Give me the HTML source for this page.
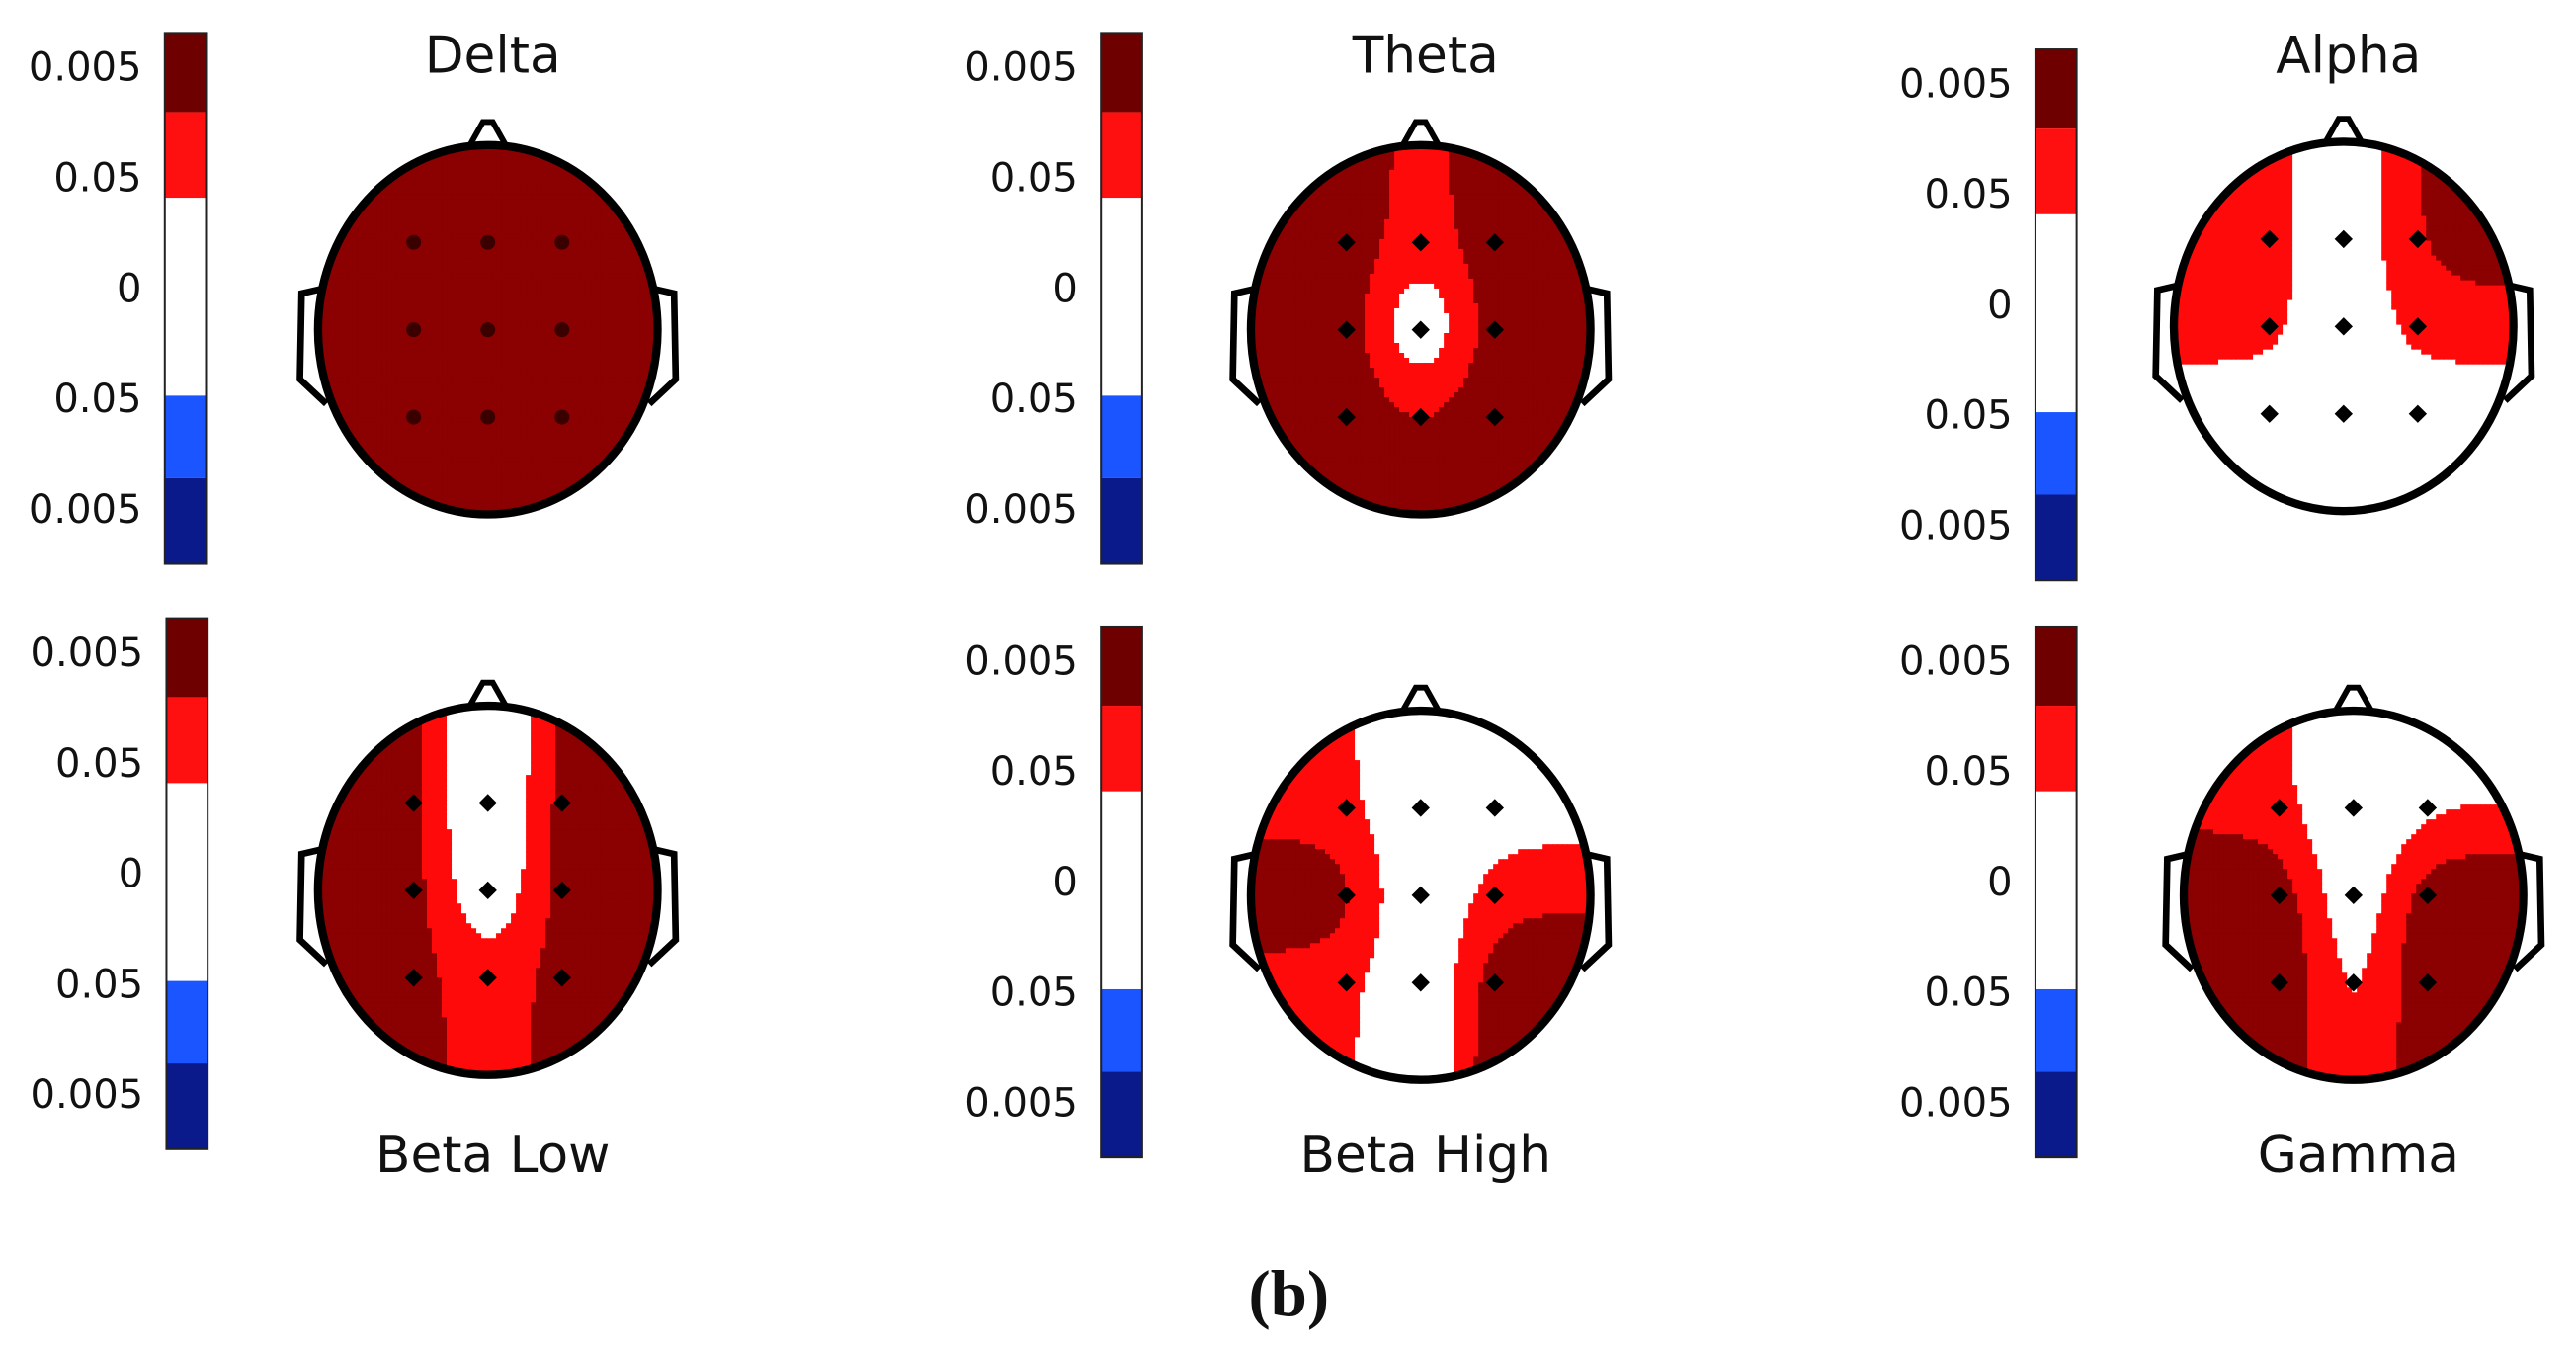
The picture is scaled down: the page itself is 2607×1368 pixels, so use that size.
<!DOCTYPE html>
<html><head><meta charset="utf-8"><style>
html,body{margin:0;padding:0;background:#fff;}
svg{display:block;}
text{font-family:"DejaVu Sans","Liberation Sans",sans-serif;fill:#111;}
</style></head><body>
<svg id="fig" width="2607" height="1368" viewBox="0 0 1563 820" preserveAspectRatio="none" xmlns="http://www.w3.org/2000/svg">
<text x="782" y="798" text-anchor="middle" font-size="40" style="font-family:'Liberation Serif',serif;font-weight:bold">(b)</text>
</svg>
<script>
// band names and electrode significance levels (3x3 grid: front, mid, back rows; left, mid, right cols)
const bandNames = ["Delta","Theta","Alpha","Beta Low","Beta High","Gamma"];
const deltaVals = [2.5,2.5,2.5, 2.5,2.3,2.5, 2.5,2.5,2.5];
const thetaVals = [2.2,1.0,2.2, 2.2,-0.8,2.2, 2.2,1.6,2.2];
const alphaVals = [1.3,-0.3,1.8, 1.3,-0.3,1.3, 0.0,0.0,0.0];
const betaLowVals = [2.2,-1.0,2.2, 2.1,-0.5,2.1, 1.9,1.0,1.9];
const betaHighVals = [1.1,-0.5,0.3, 2.2,-0.5,1.3, 1.1,-0.5,2.4];
const gammaVals = [1.1,-0.4,0.5, 2.4,-0.4,2.4, 2.4,0.2,2.4];
const tickLabels = ["0.005","0.05","0","0.05","0.005"];
const bandValues = [deltaVals,thetaVals,alphaVals,betaLowVals,betaHighVals,gammaVals];

const layout = [
 {cx:296,cy:200,cbx:100,cby:20,ty:33},
 {cx:862,cy:200,cbx:668,cby:20,ty:33},
 {cx:1422,cy:198,cbx:1235,cby:30,ty:33},
 {cx:296,cy:540,cbx:101,cby:375,ty:700},
 {cx:862,cy:543,cbx:668,cby:380,ty:700},
 {cx:1428,cy:543,cbx:1235,cby:380,ty:700}
];
const NS="http://www.w3.org/2000/svg";
const svg=document.getElementById('fig');
function mk(tag,attrs,parent){const e=document.createElementNS(NS,tag);for(const k in attrs)e.setAttribute(k,attrs[k]);(parent||svg).appendChild(e);return e;}
const RX=103,RY=112,SP=45;
function color(v){return v>=1.5?'#8b0000':(v>=0.75?'#ff0a0a':'#ffffff');}
function interp(vals,x,y){
  let num=0,den=0;
  for(let i=0;i<9;i++){const ex=(i%3)-1,ey=Math.floor(i/3)-1;const d2=(x-ex)**2+(y-ey)**2;const w=Math.exp(-d2/0.6);num+=w*vals[i];den+=w;}
  return num/den;
}
layout.forEach((L,p)=>{
  const vals=bandValues[p];
  const g=mk('g',{});
  
  
  const cb=mk('g',{},g);
  
  
  const segs=[['#6e0000',48],['#ff1010',52],['#ffffff',120],['#1a55ff',50],['#0a1a8a',52]];
  let yy=L.cby;
  segs.forEach(s=>{const r=mk('rect',{x:L.cbx,y:yy,width:25,height:s[1],fill:s[0]},cb);yy+=s[1];});
  mk('rect',{x:L.cbx,y:L.cby,width:25,height:322,fill:'none',stroke:'#222','stroke-width':1.2},cb);
  tickLabels.forEach((t,i)=>{const tx=mk('text',{x:L.cbx-14,y:L.cby+20+i*67+9,'text-anchor':'end','font-size':24},cb);tx.textContent=t;});
  const cid='clip'+p;
  const cp=mk('clipPath',{id:cid},g);
  mk('ellipse',{cx:L.cx,cy:L.cy,rx:RX,ry:RY},cp);
  const hm=mk('g',{'clip-path':'url(#'+cid+')'},g);
  
  
  const cs=3;
  for(let y=L.cy-RY;y<L.cy+RY;y+=cs){for(let x=L.cx-RX;x<L.cx+RX;x+=cs){
    const v=interp(vals,(x+cs/2-L.cx)/SP,(y+cs/2-L.cy)/53);
    mk('rect',{x:x,y:y,width:cs+0.4,height:cs+0.4,fill:color(v)},hm);
  }}
  const ol=mk('g',{fill:'none',stroke:'#000','stroke-width':4},g);
  
  
  mk('path',{d:`M${L.cx-12},${L.cy-RY+2} L${L.cx-3},${L.cy-RY-14} L${L.cx+3},${L.cy-RY-14} L${L.cx+12},${L.cy-RY+2}`,'stroke-width':3.5},ol);
  mk('path',{d:`M${L.cx-RX+3},${L.cy-25} L${L.cx-RX-10},${L.cy-22} L${L.cx-RX-11},${L.cy+30} L${L.cx-RX+5},${L.cy+45}`,'stroke-width':4},ol);
  mk('path',{d:`M${L.cx+RX-3},${L.cy-25} L${L.cx+RX+10},${L.cy-22} L${L.cx+RX+11},${L.cy+30} L${L.cx+RX-5},${L.cy+45}`,'stroke-width':4},ol);
  mk('ellipse',{cx:L.cx,cy:L.cy,rx:RX,ry:RY,'stroke-width':5},ol);
  for(let i=0;i<9;i++){
    const ex=L.cx+((i%3)-1)*SP, ey=L.cy+(Math.floor(i/3)-1)*53;
    let m;
    if(p===0){m=mk('circle',{cx:ex,cy:ey,r:4.5,fill:'#3a0000'},g);}
    else{m=mk('path',{d:`M${ex},${ey-5.5} L${ex+5.5},${ey} L${ex},${ey+5.5} L${ex-5.5},${ey} Z`,fill:'#000'},g);}
    
    
  }
  const title=mk('text',{x:L.cx+3,y:L.ty+11,'text-anchor':'middle','font-size':31},g);
  title.textContent=bandNames[p];
  
  
});
</script>
</body></html>
